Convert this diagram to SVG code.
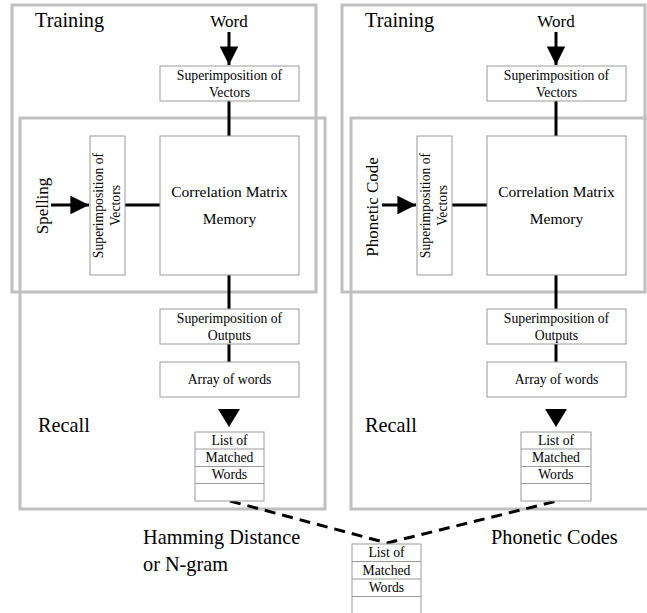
<svg xmlns="http://www.w3.org/2000/svg" width="647" height="613" viewBox="0 0 647 613">
<style>
.frame{fill:none;stroke:#c0c0c0;stroke-width:3}
.box{fill:#fff;stroke:#9a9a9a;stroke-width:1}
.ln{stroke:#000;stroke-width:3;fill:none}
.dash{stroke:#000;stroke-width:3;fill:none;stroke-dasharray:11 7}
text{font-family:"Liberation Serif","DejaVu Serif","Times New Roman",serif;fill:#000}
.big{font-size:20.3px}
.mid{font-size:17px}
.sm{font-size:13.7px;text-anchor:middle}
.cm{font-size:15.5px;text-anchor:middle}
</style>
<defs>
<marker id="ah" viewBox="0 0 10 10" refX="10" refY="5" markerWidth="6.2" markerHeight="6.2" markerUnits="strokeWidth" orient="auto"><path d="M0,0 L10,5 L0,10 Z" fill="#000"/></marker>
</defs>
<rect width="647" height="613" fill="#fff"/>
<g id="frames">
<rect class="frame" x="12" y="5" width="304" height="287"/>
<rect class="frame" x="20" y="118" width="305" height="391"/>
<rect class="frame" x="342" y="5" width="303" height="287"/>
<rect class="frame" x="351" y="118" width="310" height="391"/>
</g>
<g id="connectors">
<line class="ln" x1="229" y1="32" x2="229" y2="65" marker-end="url(#ah)"/>
<line class="ln" x1="229" y1="101" x2="229" y2="136"/>
<line class="ln" x1="229" y1="275" x2="229" y2="309"/>
<line class="ln" x1="229" y1="344" x2="229" y2="362"/>
<line class="ln" x1="51" y1="205" x2="89" y2="205" marker-end="url(#ah)"/>
<line class="ln" x1="125" y1="205" x2="160" y2="205"/>
<path d="M218,409 L240,409 L229,427 Z" fill="#000"/>
<line class="ln" x1="556" y1="32" x2="556" y2="65" marker-end="url(#ah)"/>
<line class="ln" x1="556" y1="101" x2="556" y2="136"/>
<line class="ln" x1="556" y1="275" x2="556" y2="309"/>
<line class="ln" x1="556" y1="344" x2="556" y2="362"/>
<line class="ln" x1="382" y1="205" x2="416" y2="205" marker-end="url(#ah)"/>
<line class="ln" x1="452" y1="205" x2="487" y2="205"/>
<path d="M545,409 L567,409 L556,427 Z" fill="#000"/>
<polyline class="dash" points="230,501 387,543 557,501"/>
</g>
<g id="labels">
<text class="big" x="35" y="27">Training</text>
<text class="big" x="365" y="27">Training</text>
<text class="mid" x="229" y="27" text-anchor="middle">Word</text>
<text class="mid" x="556" y="27" text-anchor="middle">Word</text>
<text class="big" x="38" y="432">Recall</text>
<text class="big" x="365" y="432">Recall</text>
<text class="mid" transform="translate(48,206) rotate(-90)" text-anchor="middle">Spelling</text>
<text class="mid" transform="translate(378,207) rotate(-90)" text-anchor="middle">Phonetic Code</text>
<text class="big" x="143" y="544">Hamming Distance</text>
<text class="big" x="143" y="571">or N-gram</text>
<text class="big" x="491" y="544">Phonetic Codes</text>
</g>
<g id="sup-top-left">
<rect class="box" x="160" y="66" width="139" height="35"/>
<text class="sm" x="229.5" y="80">Superimposition of</text>
<text class="sm" x="229.5" y="97">Vectors</text>
</g>
<g id="cmm-left">
<rect class="box" x="160" y="136" width="139" height="139"/>
<text class="cm" x="229.5" y="197">Correlation Matrix</text>
<text class="cm" x="229.5" y="224">Memory</text>
</g>
<g id="sup-side-left">
<rect class="box" x="90" y="136" width="35" height="139"/>
<text class="sm" transform="translate(103,205.5) rotate(-90)">Superimposition of</text>
<text class="sm" transform="translate(120,205.5) rotate(-90)">Vectors</text>
</g>
<g id="sup-out-left">
<rect class="box" x="160" y="309" width="139" height="35"/>
<text class="sm" x="229.5" y="323">Superimposition of</text>
<text class="sm" x="229.5" y="340">Outputs</text>
</g>
<g id="array-left">
<rect class="box" x="160" y="362" width="139" height="35"/>
<text class="sm" x="229.5" y="384">Array of words</text>
</g>
<g id="list-left">
<rect class="box" x="195" y="432" width="69" height="69"/>
<line class="box" x1="195" y1="449" x2="264" y2="449"/>
<line class="box" x1="195" y1="466.5" x2="264" y2="466.5"/>
<line class="box" x1="195" y1="483.5" x2="264" y2="483.5"/>
<text class="sm" x="229.5" y="445">List of</text>
<text class="sm" x="229.5" y="462">Matched</text>
<text class="sm" x="229.5" y="479">Words</text>
</g>
<g id="sup-top-right">
<rect class="box" x="487" y="66" width="139" height="35"/>
<text class="sm" x="556.5" y="80">Superimposition of</text>
<text class="sm" x="556.5" y="97">Vectors</text>
</g>
<g id="cmm-right">
<rect class="box" x="487" y="136" width="139" height="139"/>
<text class="cm" x="556.5" y="197">Correlation Matrix</text>
<text class="cm" x="556.5" y="224">Memory</text>
</g>
<g id="sup-side-right">
<rect class="box" x="417" y="136" width="35" height="139"/>
<text class="sm" transform="translate(430,205.5) rotate(-90)">Superimposition of</text>
<text class="sm" transform="translate(447,205.5) rotate(-90)">Vectors</text>
</g>
<g id="sup-out-right">
<rect class="box" x="487" y="309" width="139" height="35"/>
<text class="sm" x="556.5" y="323">Superimposition of</text>
<text class="sm" x="556.5" y="340">Outputs</text>
</g>
<g id="array-right">
<rect class="box" x="487" y="362" width="139" height="35"/>
<text class="sm" x="556.5" y="384">Array of words</text>
</g>
<g id="list-right">
<rect class="box" x="521" y="432" width="70" height="69"/>
<line class="box" x1="521" y1="449" x2="591" y2="449"/>
<line class="box" x1="521" y1="466.5" x2="591" y2="466.5"/>
<line class="box" x1="521" y1="483.5" x2="591" y2="483.5"/>
<text class="sm" x="556" y="445">List of</text>
<text class="sm" x="556" y="462">Matched</text>
<text class="sm" x="556" y="479">Words</text>
</g>
<g id="list-merged">
<rect class="box" x="352" y="544" width="69" height="72"/>
<line class="box" x1="352" y1="561.5" x2="421" y2="561.5"/>
<line class="box" x1="352" y1="579" x2="421" y2="579"/>
<line class="box" x1="352" y1="596.5" x2="421" y2="596.5"/>
<text class="sm" x="386.5" y="557">List of</text>
<text class="sm" x="386.5" y="574.5">Matched</text>
<text class="sm" x="386.5" y="592">Words</text>
</g>
</svg>
